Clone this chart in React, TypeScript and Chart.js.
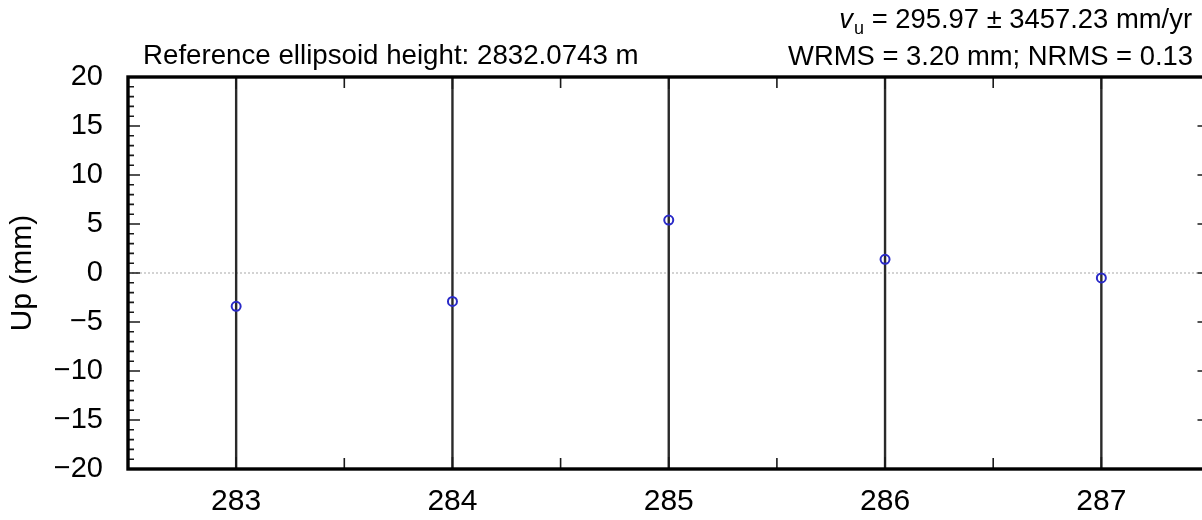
import { useEffect, useRef } from "react";
import { Chart, registerables } from "chart.js";

Chart.register(...registerables);

// Daily Up-component solutions (day of year) with formal 1-sigma errors
const epochs = [283, 284, 285, 286, 287];
const upMm = [-3.4, -2.9, 5.4, 1.4, -0.5];
const sigmaMm = [27, 26, 29, 25, 26];

const xTickValues = [283, 284, 285, 286, 287];
const yTickValues = [-20, -15, -10, -5, 0, 5, 10, 15, 20];
const xRange = [282.5, 287.5];
const yRange = [-20, 20];

const heightLabel = "Reference ellipsoid height: 2832.0743 m";
const rateSymbol = "v";
const rateSubscript = "u";
const rateValue = " = 295.97 \u00B1 3457.23 mm/yr";
const statsLabel = "WRMS = 3.20 mm; NRMS = 0.13";
const axisTitle = "Up (mm)";

const FONT = "'Liberation Sans', Arial, Helvetica, sans-serif";
const CANVAS_W = 1216;
const CANVAS_H = 520;
const PLOT_RIGHT = 1210;

const errorBars = {
  id: "errorBars",
  beforeDatasetsDraw(chart: any) {
    const { ctx, chartArea: a, scales } = chart;
    ctx.save();
    ctx.beginPath();
    ctx.rect(a.left, a.top, a.right - a.left, a.bottom - a.top);
    ctx.clip();
    // zero reference line
    const y0 = scales.y.getPixelForValue(0);
    ctx.strokeStyle = "#a8a8a8";
    ctx.lineWidth = 1;
    ctx.setLineDash([2, 2]);
    ctx.beginPath();
    ctx.moveTo(a.left, y0);
    ctx.lineTo(a.right, y0);
    ctx.stroke();
    ctx.setLineDash([]);
    // vertical error bars
    ctx.strokeStyle = "#2a2a2a";
    ctx.lineWidth = 2.4;
    epochs.forEach((t, i) => {
      const x = scales.x.getPixelForValue(t);
      ctx.beginPath();
      ctx.moveTo(x, scales.y.getPixelForValue(upMm[i] + sigmaMm[i]));
      ctx.lineTo(x, scales.y.getPixelForValue(upMm[i] - sigmaMm[i]));
      ctx.stroke();
    });
    ctx.restore();
  },
};

const frameAndText = {
  id: "frameAndText",
  afterDraw(chart: any) {
    const { ctx, chartArea: a, scales } = chart;
    ctx.save();
    // inward ticks on all four sides
    ctx.strokeStyle = "#1a1a1a";
    ctx.lineWidth = 1.6;
    ctx.beginPath();
    for (let v = yRange[0]; v <= yRange[1]; v += 1) {
      const y = scales.y.getPixelForValue(v);
      const len = v % 5 === 0 ? 12 : 6;
      ctx.moveTo(a.left, y);
      ctx.lineTo(a.left + len, y);
      ctx.moveTo(a.right, y);
      ctx.lineTo(a.right - len, y);
    }
    for (let v = xRange[0]; v <= xRange[1]; v += 0.5) {
      const x = scales.x.getPixelForValue(v);
      const len = Number.isInteger(v) ? 12 : 11;
      ctx.moveTo(x, a.top);
      ctx.lineTo(x, a.top + len);
      ctx.moveTo(x, a.bottom);
      ctx.lineTo(x, a.bottom - len);
    }
    ctx.stroke();

    // heavy frame
    ctx.strokeStyle = "#000";
    ctx.lineWidth = 3.4;
    ctx.lineJoin = "miter";
    ctx.strokeRect(a.left, a.top, a.right - a.left, a.bottom - a.top);

    // header annotations
    ctx.fillStyle = "#000";
    ctx.textBaseline = "alphabetic";
    ctx.font = `27.7px ${FONT}`;
    ctx.textAlign = "left";
    ctx.fillText(heightLabel, a.left + 15, a.top - 13);
    ctx.font = `27.4px ${FONT}`;
    ctx.textAlign = "right";
    ctx.fillText(statsLabel, 1193, a.top - 12);
    ctx.fillText(rateValue, 1192, a.top - 49);
    let x = 1192 - ctx.measureText(rateValue).width;
    ctx.font = `18px ${FONT}`;
    ctx.fillText(rateSubscript, x, a.top - 43);
    x -= ctx.measureText(rateSubscript).width + 1;
    ctx.font = `italic 27.4px ${FONT}`;
    ctx.fillText(rateSymbol, x, a.top - 49);
    ctx.restore();
  },
};

export default function App() {
  const canvasRef = useRef<HTMLCanvasElement | null>(null);

  useEffect(() => {
    const canvas = canvasRef.current;
    if (!canvas) return;
    const chart = new Chart(canvas, {
      type: "scatter",
      data: {
        datasets: [
          {
            data: epochs.map((t, i) => ({ x: t, y: upMm[i] })),
            pointStyle: "circle",
            pointRadius: 4.5,
            pointBorderWidth: 2,
            pointBorderColor: "#2a2ac8",
            pointBackgroundColor: "rgba(0,0,0,0)",
            showLine: false,
          },
        ],
      },
      options: {
        animation: false,
        responsive: false,
        devicePixelRatio: 1,
        layout: { padding: { top: 77, right: CANVAS_W - PLOT_RIGHT, left: 0, bottom: 0 } },
        plugins: {
          legend: { display: false },
          tooltip: { enabled: false },
        },
        scales: {
          x: {
            type: "linear",
            min: xRange[0],
            max: xRange[1],
            grid: { display: false },
            border: { display: false },
            afterBuildTicks: (s: any) => {
              s.ticks = xTickValues.map((v) => ({ value: v }));
            },
            afterFit: (s: any) => {
              s.height = 51;
            },
            ticks: {
              autoSkip: false,
              maxRotation: 0,
              padding: 7,
              color: "#000",
              font: { family: FONT, size: 30 },
              callback: (v: any) => String(v),
            },
          },
          y: {
            type: "linear",
            min: yRange[0],
            max: yRange[1],
            grid: { display: false },
            border: { display: false },
            afterBuildTicks: (s: any) => {
              s.ticks = yTickValues.map((v) => ({ value: v }));
            },
            afterFit: (s: any) => {
              s.width = 128;
            },
            ticks: {
              autoSkip: false,
              padding: 17,
              color: "#000",
              font: { family: FONT, size: 29 },
              callback: (v: any) => String(v).replace("-", "\u2212"),
            },
            title: {
              display: true,
              text: axisTitle,
              color: "#000",
              padding: { top: 5, bottom: 0 },
              font: { family: FONT, size: 30 },
            },
          },
        },
      },
      plugins: [errorBars, frameAndText],
    });
    return () => chart.destroy();
  }, []);

  return (
    <div
      style={{
        position: "absolute",
        left: 0,
        top: 0,
        width: 1202,
        height: CANVAS_H,
        overflow: "hidden",
        background: "#fff",
      }}
    >
      <canvas
        ref={canvasRef}
        width={CANVAS_W}
        height={CANVAS_H}
        style={{ display: "block", width: CANVAS_W, height: CANVAS_H }}
      />
    </div>
  );
}
